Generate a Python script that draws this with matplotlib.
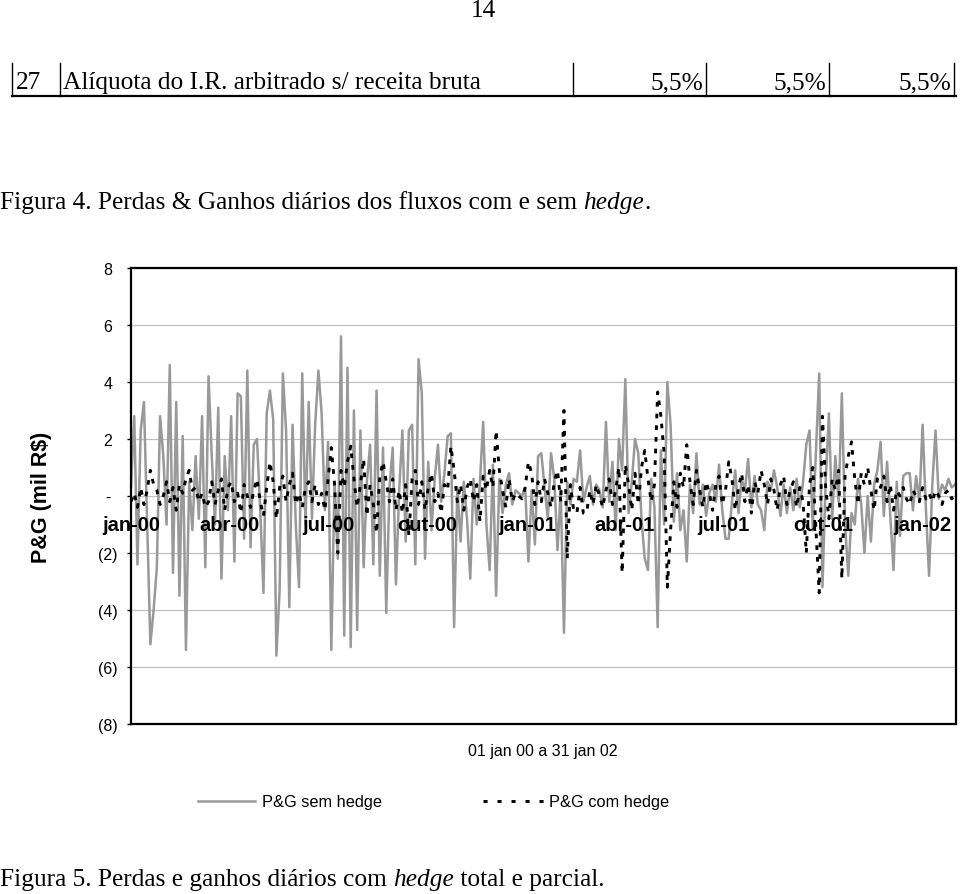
import matplotlib
matplotlib.use('Agg')
import matplotlib.pyplot as plt
import matplotlib.dates as mdates
import numpy as np
import pandas as pd
from matplotlib.lines import Line2D

# ---------------- data ----------------
sem_hedge = [
    0.3, 2.8, -2.4, 2.3, 3.3, -1.0, -5.2, -4.0, -2.5, 2.8, 1.4, -1.0, 4.6, -2.7, 3.3, -3.5,
    2.1, -5.4, 0.5, -1.2, 1.4, -0.8, 2.8, -2.5, 4.2, 1.4, -1.0, 3.1, -2.9, 1.4, -0.5, 2.8,
    -2.3, 3.6, 3.5, -1.5, 4.4, -1.8, 1.8, 2.0, -0.5, -3.4, 2.9,
    3.7, 2.7, -5.6, -3.3, 4.3, 2.3, -3.9, 2.5, -1.0, -3.2, 4.3, -1.0, 3.3, -0.8, 2.5, 4.4,
    2.9, -0.5, 1.9, -5.4, 0.5, -2.2, 5.6, -4.9, 4.5, -5.3, 3.0, -4.7, 2.3, -2.5, 0.5, 1.8,
    -2.4, 3.7, -2.8, 1.7, -4.1, 0.3, 1.7, -3.1, 0.2, 2.3,
    -1.6, 2.3, 2.5, -2.4, 4.8, 3.6, -2.2, 1.2, -1.2, 0.6, 1.8, -0.2, 0.8, 2.1, 2.2, -4.6,
    0.3, -1.6, 0.5, -0.8, -2.9, 0.6, -1.0, 0.5, 2.6, -1.0, -2.6, 1.1, -3.5, 0.6, -0.6, 0.4,
    0.8, -0.3, 0.2, 0.1, 0.0, 0.3, -2.3, 0.2, -1.7, 1.4,
    1.5, 0.3, -0.8, 1.5, 0.6, -1.9, 0.2, -4.8, 0.5, -0.3, 0.6, 0.5, 1.6, -0.2, 0.3, 0.7,
    -0.3, 0.4, 0.2, -0.4, 2.6, -0.2, 1.2, -1.2, 2.0, 0.9, 4.1, -0.6, 0.5, 2.0, 1.5, -0.8,
    -2.2, -2.6, 0.6, -0.4, -4.6, 1.6, -1.0, 4.0, 2.5, -0.9,
    0.8, -1.2, -0.5, -2.3, 0.4, -0.6, 1.5, -0.3, 0.4, -0.7, 0.1, 0.4, -0.2, 1.1, -0.5, -1.5,
    -1.5, -0.2, 0.9, -0.6, 0.6, 0.2, 1.3, -0.4, 0.7, -0.3, -0.5, -1.2, 0.5, 0.2, 0.9, 0.3,
    -0.7, 0.4, -0.6, 0.3, -0.5, 0.6, -0.4, 0.5, 1.8, 2.3,
    -1.2, 1.6, 4.3, -3.2, 0.5, 2.9, -0.8, 1.4, -0.2, 3.6, -1.0, -2.8, -0.6, -1.0, 0.6, -0.3,
    -2.0, 0.0, -1.6, 0.4, 0.9, 1.9, -0.7, 1.2, -0.7, -2.6, 0.5, -1.4, 0.7, 0.8, 0.8, -0.5,
    0.7, -0.2, 2.5, -0.4, -2.8, 0.4, 2.3, -0.1, 0.4, 0.2, 0.6, 0.3, 0.4,
]
com_hedge = [
    -0.2, 0.1, -0.4, 0.3, -0.3, 0.2, 0.9, 0.4, 0.2, -0.3, 0.0, 0.5, -0.2, 0.3, -0.5, 0.4,
    0.1, 0.6, 0.9, 0.2, 0.3, -0.2, 0.1, -0.4, -0.2, 0.5, -0.3, 0.2, 0.6, -0.5, 0.3, 0.5,
    -0.2, 0.1, -0.6, 0.4, 0.0, -0.4, 0.2, 0.6, -0.2, -0.7, 0.3,
    1.2, 0.5, -0.8, 0.3, 0.7, -0.2, 0.4, 0.8, -0.3, 0.1, -0.4, 0.3, 0.5, -0.2, 0.4, -0.3,
    0.1, -0.5, 0.6, 1.7, 0.4, -2.0, 0.9, 0.3, 1.2, 1.75, 0.6, -0.4, 0.4, 1.3, -0.7, 0.4,
    -0.3, -1.3, 0.7, 1.2, 0.5, -0.2, 0.6, -0.5, 0.2, -0.6,
    0.4, -1.4, 0.6, 0.9, -0.3, 0.5, -0.5, 0.3, 0.8, -0.2, 0.1, -0.6, 0.4, 0.2, 1.75, 0.9,
    -0.2, 0.4, -0.5, 0.3, 0.6, -0.2, 0.4, -0.9, 0.7, 0.2, 0.9, 0.3, 2.3, 0.9, 0.2, -0.4,
    0.6, -0.2, 0.1, 0.0, -0.1, 0.3, 1.2, 0.8, -0.3, 0.5,
    -0.2, 0.6, 0.1, -0.4, 0.5, 0.9, -0.2, 3.0, -2.2, 0.4, -0.5, -0.6, 0.3, -0.6, -0.6, 0.2,
    -0.3, 0.4, 0.0, -0.4, 0.2, 0.6, -0.3, 0.2, 1.0, -2.7, 1.1, 0.4, -0.5, 0.8, -0.3, 1.0,
    1.6, 0.6, -0.2, 0.4, 3.65, 2.8, 1.5, -3.2, -1.2, 0.5,
    -0.4, 0.8, 0.3, 1.8, 0.5, -0.3, 0.9, 0.2, -0.4, 0.5, 0.1, -0.5, 0.4, 0.7, -0.3, 0.2,
    1.2, 0.6, -0.5, 0.3, 0.8, -0.2, 0.4, -0.6, 0.5, 0.1, 0.9, 0.4, -0.3, 0.6, 0.2, -0.5,
    0.4, 0.7, -0.3, 0.2, 0.5, -0.4, 0.3, -0.2, -2.0, 0.4,
    1.0, -1.2, -3.4, 2.8, 0.3, -0.8, 0.6, 0.2, 0.9, -2.9, 0.7, 1.4, 1.9, 0.6, -0.3, 0.8,
    0.4, 1.0, 0.2, -0.5, 0.6, 0.3, 0.7, -0.2, 0.4, -0.5, 0.2, 0.0, 0.3, -0.1, -0.3, 0.2,
    0.0, -0.2, 0.3, -0.1, 0.1, -0.2, 0.2, 0.0, -0.3, 0.1, 0.2, -0.1, 0.0,
]
period_start = '2000-01-01'
period_end = '2002-01-31'
month_starts = ['2000-01-01', '2000-04-01', '2000-07-01', '2000-10-01', '2001-01-01',
                '2001-04-01', '2001-07-01', '2001-10-01', '2002-01-01']
month_labels = ['jan-00', 'abr-00', 'jul-00', 'out-00', 'jan-01',
                'abr-01', 'jul-01', 'out-01', 'jan-02']
y_ticks = [8, 6, 4, 2, 0, -2, -4, -6, -8]
y_tick_labels = ['8', '6', '4', '2', '-', '(2)', '(4)', '(6)', '(8)']
series_names = ['P&G sem hedge', 'P&G com hedge']
table_row = ['27', 'Alíquota do I.R. arbitrado s/ receita bruta', '5,5%', '5,5%', '5,5%']

# ---------------- figure ----------------
W, H = 960, 895
fig = plt.figure(figsize=(W / 100, H / 100), dpi=100)
fig.patch.set_facecolor('white')
SANS = 'Liberation Sans'
SERIF = 'Liberation Serif'
SERIF_SIZE = 18.3


def fx(px):
    return px / W


def fy(py):
    return 1 - py / H


GRAY = '#999999'
DASH = (1.6, 2.4)

ax = fig.add_axes([fx(131), fy(725), fx(956) - fx(131), fy(269) - fy(725)])
dates = pd.date_range(period_start, period_end, periods=len(sem_hedge))
ax.plot(dates, sem_hedge, color=GRAY, lw=1.8, zorder=2)
ax.plot(dates, com_hedge, color='black', lw=2.1, dashes=DASH, zorder=3)
ax.set_xlim(pd.Timestamp(period_start), pd.Timestamp('2002-02-01'))
ax.set_ylim(-8, 8)
ax.set_yticks(y_ticks)
ax.set_yticklabels(y_tick_labels, fontfamily=SANS, fontsize=11.5)
for lab in ax.get_yticklabels():
    lab.set_horizontalalignment('center')
ax.set_xticks([])
ax.yaxis.grid(True, color='#c0c0c0', lw=0.9)
ax.set_axisbelow(True)
for s in ax.spines.values():
    s.set_linewidth(1.6)
ax.tick_params(axis='y', length=3, width=1, pad=13.5)

for d, lab in zip(month_starts, month_labels):
    ax.text(mdates.date2num(pd.Timestamp(d)), -1.0, lab, ha='center', va='center',
            fontsize=14.5, fontweight='bold', fontfamily=SANS, zorder=6)

fig.text(fx(42), fy(497), 'P&G (mil R$)', rotation=90, ha='center', va='center',
         fontsize=15.5, fontweight='bold', fontfamily=SANS)
fig.text(fx(543), fy(752), '01 jan 00 a 31 jan 02', ha='center', va='center',
         fontsize=11.5, fontfamily=SANS)

# legend
fig.add_artist(Line2D([fx(198), fx(255)], [fy(802), fy(802)], transform=fig.transFigure,
                      color=GRAY, lw=1.8))
fig.text(fx(262), fy(803), series_names[0], ha='left', va='center', fontsize=11.8, fontfamily=SANS)
fig.add_artist(Line2D([fx(483), fx(545)], [fy(802), fy(802)], transform=fig.transFigure,
                      color='black', lw=2.1, dashes=(1.4, 3.4)))
fig.text(fx(549), fy(803), series_names[1], ha='left', va='center', fontsize=11.8, fontfamily=SANS)

# ---------------- page text ----------------
fig.text(fx(483), fy(11), '14', ha='center', va='center', fontsize=SERIF_SIZE, fontfamily=SERIF)

# table row
for xv in [12, 60, 573, 706, 829, 954]:
    fig.add_artist(Line2D([fx(xv), fx(xv)], [fy(64), fy(97)], transform=fig.transFigure,
                          color='black', lw=1.0))
fig.add_artist(Line2D([fx(12), fx(956)], [fy(97), fy(97)], transform=fig.transFigure,
                      color='black', lw=1.6))
fig.text(fx(16), fy(83), table_row[0], ha='left', va='center', fontsize=SERIF_SIZE, fontfamily=SERIF)
fig.text(fx(63), fy(83), table_row[1], ha='left', va='center', fontsize=SERIF_SIZE, fontfamily=SERIF)
for xr, v in zip([703, 826, 951], table_row[2:]):
    fig.text(fx(xr), fy(83), v, ha='right', va='center', fontsize=SERIF_SIZE, fontfamily=SERIF)

renderer = fig.canvas.get_renderer()


def caption(parts, x0, y0):
    x = x0
    for txt, style in parts:
        t = fig.text(x, y0, txt, ha='left', va='center', fontsize=SERIF_SIZE, fontfamily=SERIF,
                     fontstyle=style)
        bb = t.get_window_extent(renderer=renderer)
        x = x + bb.width / W


caption([('Figura 4. Perdas & Ganhos diários dos fluxos com e sem ', 'normal'),
         ('hedge', 'italic'), ('.', 'normal')], fx(0), fy(203))
caption([('Figura 5. Perdas e ganhos diários com ', 'normal'),
         ('hedge', 'italic'), (' total e parcial.', 'normal')], fx(0), fy(880))

fig.savefig('out.png', dpi=100, facecolor='white')
